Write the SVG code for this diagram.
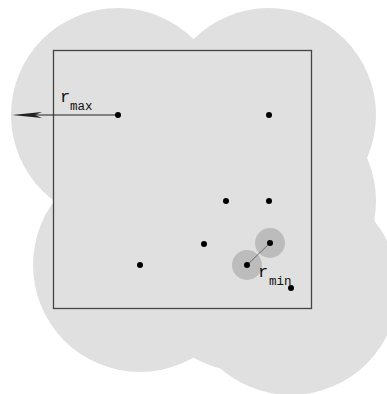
<svg xmlns="http://www.w3.org/2000/svg" width="387" height="394" viewBox="0 0 387 394">
<style>
.big{fill:#e0e0e0}
.small{fill:#bcbcbc}
.pt{fill:#000}
</style>
<rect width="387" height="394" fill="#fff"/>
<g id="coverage">
<circle class="big" cx="118" cy="115" r="107"/>
<circle class="big" cx="269" cy="115" r="107"/>
<circle class="big" cx="226" cy="201" r="107"/>
<circle class="big" cx="269" cy="201" r="107"/>
<circle class="big" cx="204" cy="244" r="107"/>
<circle class="big" cx="270" cy="243" r="107"/>
<circle class="big" cx="140" cy="265" r="107"/>
<circle class="big" cx="247" cy="265" r="107"/>
<circle class="big" cx="291" cy="288" r="107"/>
</g>
<g id="region">
<rect x="53.5" y="50.5" width="258" height="258" fill="none" stroke="#444" stroke-width="1.3"/>
</g>
<g id="minzones">
<circle class="small" cx="270" cy="243" r="15"/>
<circle class="small" cx="247" cy="265" r="15"/>
</g>
<g id="connectors">
<line x1="118" y1="115" x2="30" y2="115" stroke="#222" stroke-width="1"/>
<polygon points="12,115 42,112 35,115 42,118" fill="#222"/>
<line x1="247" y1="265" x2="270" y2="243" stroke="#555" stroke-width="0.8"/>
</g>
<g id="points">
<circle class="pt" cx="118" cy="115" r="3"/>
<circle class="pt" cx="269" cy="115" r="3"/>
<circle class="pt" cx="226" cy="201" r="3"/>
<circle class="pt" cx="269" cy="201" r="3"/>
<circle class="pt" cx="204" cy="244" r="3"/>
<circle class="pt" cx="270" cy="243" r="3"/>
<circle class="pt" cx="140" cy="265" r="3"/>
<circle class="pt" cx="247" cy="265" r="3"/>
<circle class="pt" cx="291" cy="288" r="3"/>
</g>
<g id="labels" font-family="'Liberation Mono', 'Courier New', monospace" fill="#111">
<text x="60" y="102" font-size="17">r</text>
<text x="70" y="110" font-size="12.5">max</text>
<text x="258" y="277" font-size="17">r</text>
<text x="269" y="285" font-size="12.5">min</text>
</g>
</svg>
